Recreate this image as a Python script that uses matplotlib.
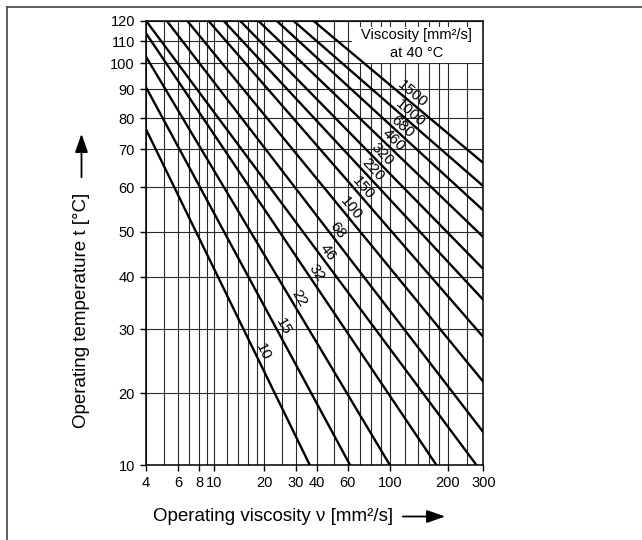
import numpy as np
import matplotlib
matplotlib.use("Agg")
import matplotlib.pyplot as plt
from matplotlib.patches import Rectangle, FancyArrowPatch
from matplotlib.lines import Line2D

plt.rcParams['font.family'] = ['Liberation Sans', 'DejaVu Sans']

# ISO VG grades (nominal viscosity at 40 degC), one straight line each
VG = [10, 15, 22, 32, 46, 68, 100, 150, 220, 320, 460, 680, 1000, 1500]
# upper-left end of each line (viscosity, temperature)
NU_START = [4, 4, 4, 4, 4, 5.2, 6.8, 9.2, 11.4, 14.3, 18.4, 23.4, 29.0, 38.0]
T_START = [76.4, 90.8, 103.0, 113.9, 120, 120, 120, 120, 120, 120, 120, 120, 120, 120]
# lower-right end of each line
NU_END = [36.3, 62, 100, 175, 278, 300, 300, 300, 300, 300, 300, 300, 300, 300]
T_END = [10, 10, 10, 10, 10, 14.6, 21.8, 28.8, 35.6, 41.7, 48.8, 54.8, 60.3, 66.4]
# temperature at which each grade label sits
LABEL_T = [26.0, 29.9, 35.2, 39.9, 44.4, 49.3, 54.1, 58.8, 63.2, 67.2, 71.1, 75.6, 79.9, 86.3]

X_TICKS = [4, 6, 8, 10, 20, 30, 40, 60, 100, 200, 300]
X_GRID = [5, 7, 9, 12, 14, 16, 18, 25, 50, 70, 80, 90, 120, 140, 160, 180, 250]
Y_TICKS = [10, 20, 30, 40, 50, 60, 70, 80, 90, 100, 110, 120]

# axis calibration of the printed chart (relative distance of each tick)
X_CAL_POS = [0, 32, 53, 68, 118.3, 150, 171, 201.5, 244, 301.7, 337.3]
Y_CAL_POS = [0, 72, 136, 188.6, 233.6, 278, 316, 347.3, 376, 402, 424, 444.6]


def interp_ext(xp, fp):
    xp = np.asarray(xp, float)
    fp = np.asarray(fp, float)

    def f(x):
        x = np.asarray(x, float)
        y = np.interp(x, xp, fp)
        lo = (fp[1] - fp[0]) / (xp[1] - xp[0])
        hi = (fp[-1] - fp[-2]) / (xp[-1] - xp[-2])
        y = np.where(x < xp[0], fp[0] + (x - xp[0]) * lo, y)
        y = np.where(x > xp[-1], fp[-1] + (x - xp[-1]) * hi, y)
        return y
    return f


lx = np.log10(X_TICKS)
x_fwd_log = interp_ext(lx, X_CAL_POS)
x_inv_log = interp_ext(X_CAL_POS, lx)


def x_fwd(v):
    return x_fwd_log(np.log10(np.clip(np.asarray(v, float), 1e-6, None)))


def x_inv(p):
    return 10 ** x_inv_log(p)


y_fwd = interp_ext(Y_TICKS, Y_CAL_POS)
y_inv = interp_ext(Y_CAL_POS, Y_TICKS)

W, H = 642, 540
fig = plt.figure(figsize=(W / 100, H / 100), dpi=100)
ax = fig.add_axes([146 / W, 1 - 465.3 / H, 337.3 / W, 444.6 / H])

ax.set_xscale('function', functions=(x_fwd, x_inv))
ax.set_yscale('function', functions=(y_fwd, y_inv))
ax.set_xlim(4, 300)
ax.set_ylim(10, 120)

ax.set_xticks(X_TICKS, [str(v) for v in X_TICKS])
ax.set_xticks(X_GRID, minor=True)
ax.set_yticks(Y_TICKS, [str(v) for v in Y_TICKS])
ax.set_yticks([], minor=True)
ax.tick_params(which='major', direction='out', length=4, width=1, labelsize=10.5,
               pad=4, color='black')
ax.tick_params(which='minor', length=0)
ax.grid(True, which='both', color='#2a2a2a', lw=0.8)
for s in ax.spines.values():
    s.set_linewidth(1.1)
    s.set_color('black')

for i, vg in enumerate(VG):
    ax.plot([NU_START[i], NU_END[i]], [T_START[i], T_END[i]], color='black',
            lw=1.7, solid_capstyle='butt', zorder=3, clip_on=True)

# grade labels along the lines, just above them
off = 7.5
for i, vg in enumerate(VG):
    p0 = ax.transData.transform((NU_START[i], T_START[i]))
    p1 = ax.transData.transform((NU_END[i], T_END[i]))
    d = p1 - p0
    ang = np.degrees(np.arctan2(d[1], d[0]))
    yl = ax.transData.transform((10, LABEL_T[i]))[1]
    s = (yl - p0[1]) / d[1]
    pt = p0 + s * d
    n = np.array([-d[1], d[0]]) / np.hypot(*d)
    pos = ax.transData.inverted().transform(pt + n * off)
    ax.text(pos[0], pos[1], str(vg), rotation=ang, rotation_mode='anchor',
            ha='center', va='center', fontsize=11, zorder=4)

# legend box top right
ax.add_patch(Rectangle((0.611, 0.905), 0.389, 0.08, transform=ax.transAxes,
                       facecolor='white', edgecolor='none', zorder=2))
ax.text(0.8026, 0.968, 'Viscosity [mm²/s]', transform=ax.transAxes,
        ha='center', va='center', fontsize=10.5, zorder=4)
ax.text(0.8026, 0.928, 'at 40 °C', transform=ax.transAxes,
        ha='center', va='center', fontsize=10.5, zorder=4)

# axis titles with arrows
fig.text(153 / W, 1 - 516.5 / H, 'Operating viscosity ν [mm²/s]', ha='left',
         va='center', fontsize=13.5)
fig.text(82 / W, 1 - 310 / H, 'Operating temperature t [°C]', rotation=90,
         ha='center', va='center', fontsize=13.5)
arrow_kw = dict(arrowstyle='-|>,head_length=0.8,head_width=0.28', mutation_scale=14,
                lw=1.3, color='black', transform=fig.transFigure)
fig.add_artist(FancyArrowPatch((400 / W, 1 - 516.5 / H), (448 / W, 1 - 516.5 / H), **arrow_kw))
fig.add_artist(FancyArrowPatch((81.5 / W, 1 - 180 / H), (81.5 / W, 1 - 131 / H), **arrow_kw))

# page frame
fig.add_artist(Line2D([7 / W, 1], [1 - 6.5 / H, 1 - 6.5 / H], transform=fig.transFigure,
                      color='#444444', lw=1.2))
fig.add_artist(Line2D([7 / W, 7 / W], [0, 1 - 6.5 / H], transform=fig.transFigure,
                      color='#444444', lw=1.2))

fig.savefig('out.png', dpi=100)
